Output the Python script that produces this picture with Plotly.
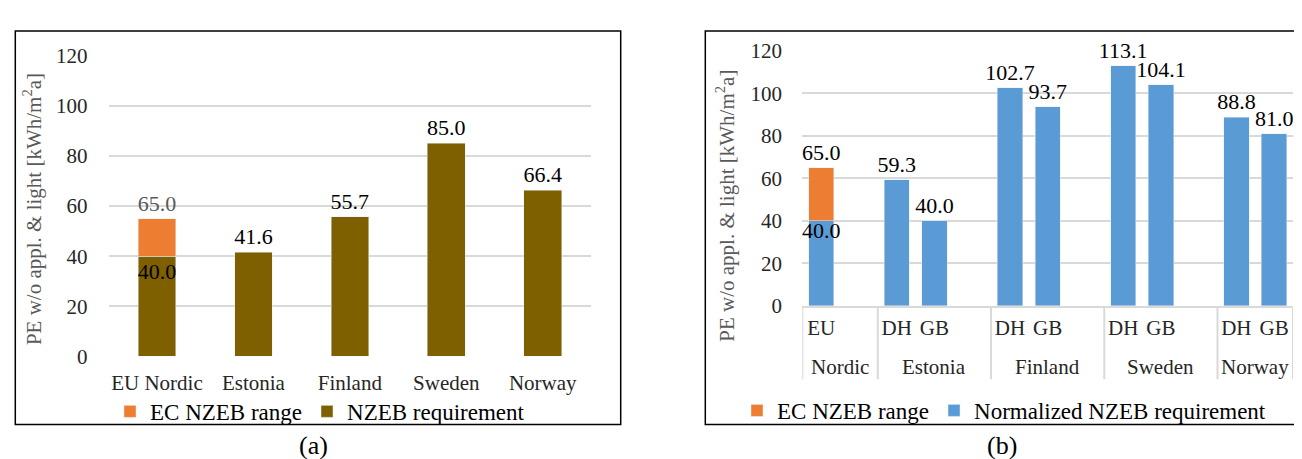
import plotly.graph_objects as go

# ---------------- data: panel (a) ----------------
a_categories = ["EU Nordic", "Estonia", "Finland", "Sweden", "Norway"]
a_nzeb = [40.0, 41.6, 55.7, 85.0, 66.4]
a_nzeb_labels = ["40.0", "41.6", "55.7", "85.0", "66.4"]
a_range_categories = ["EU Nordic"]
a_range = [15.0]
a_range_labels = ["65.0"]

# ---------------- data: panel (b) ----------------
b_groups = ["Nordic", "Nordic", "Estonia", "Estonia", "Estonia", "Finland", "Finland",
            "Finland", "Sweden", "Sweden", "Sweden", "Norway", "Norway"]
b_subs = ["EU", "", "DH", "GB", "", "DH", "GB", "", "DH", "GB", "", "DH", "GB"]
b_norm = [40.0, None, 59.3, 40.0, None, 102.7, 93.7, None, 113.1, 104.1, None, 88.8, 81.0]
b_norm_labels = ["40.0", "", "59.3", "40.0", "", "102.7", "93.7", "", "113.1", "104.1", "", "88.8", "81.0"]
b_range_slot = [0]
b_range = [25.0]
b_range_labels = ["65.0"]

y_ticks = [0, 20, 40, 60, 80, 100, 120]

# ---------------- styling ----------------
W, H = 1302, 459
FONT = "Liberation Serif"
ORANGE = "#ED7D31"
OLIVE = "#7F6000"
BLUE = "#5B9BD5"
GRID = "#D9D9D9"
TXT = "#000000"
TICK = "#262626"


def px(x):
    return x / W


def py(y):
    return 1 - y / H


b_slots = list(range(len(b_subs)))
b_tick_slots = [i for i, s in zip(b_slots, b_subs) if s]
b_tick_text = [s for s in b_subs if s]

# bars that exist in panel (b) (blank separator slots carry no bar)
b_bar_x = [i for i, v in zip(b_slots, b_norm) if v is not None]
b_bar_y = [v for v in b_norm if v is not None]
b_bar_text = [t for t, v in zip(b_norm_labels, b_norm) if v is not None]

# group spans on the panel (b) category scale
group_names = []
group_bounds = []
for i, g in enumerate(b_groups):
    if not group_names or group_names[-1] != g:
        group_names.append(g)
        group_bounds.append([i - 0.5, i + 0.5])
    else:
        group_bounds[-1][1] = i + 0.5

fig = go.Figure()

# panel (a)
fig.add_trace(go.Bar(
    x=a_categories, y=a_nzeb, name="NZEB requirement", marker_color=OLIVE,
    text=a_nzeb_labels, texttemplate="%{text}",
    textposition=["inside"] + ["outside"] * (len(a_categories) - 1),
    insidetextanchor="end", constraintext="none", textangle=0,
    textfont=dict(family=FONT, size=22, color=TXT), cliponaxis=False,
    width=0.39, xaxis="x", yaxis="y", legend="legend", legendrank=2,
))
fig.add_trace(go.Bar(
    x=a_range_categories, y=a_range, name="EC NZEB range", marker_color=ORANGE,
    text=a_range_labels, texttemplate="%{text}", textposition="outside",
    constraintext="none", textangle=0,
    textfont=dict(family=FONT, size=22, color="#595959"), cliponaxis=False,
    width=0.39, xaxis="x", yaxis="y", legend="legend", legendrank=1,
))

# panel (b)
fig.add_trace(go.Bar(
    x=b_bar_x, y=b_bar_y, name="Normalized NZEB requirement", marker_color=BLUE,
    text=b_bar_text,
    textposition=["none"] + ["outside"] * (len(b_bar_x) - 1),
    constraintext="none", textangle=0,
    textfont=dict(family=FONT, size=22, color=TXT), cliponaxis=False,
    width=0.67, xaxis="x2", yaxis="y2", legend="legend2", legendrank=2,
))
fig.add_trace(go.Bar(
    x=b_range_slot, y=b_range, name="EC NZEB range", marker_color=ORANGE,
    text=b_range_labels, textposition="outside",
    constraintext="none", textangle=0,
    textfont=dict(family=FONT, size=22, color=TXT), cliponaxis=False,
    width=0.67, xaxis="x2", yaxis="y2", legend="legend2", legendrank=1,
))

yaxis_common = dict(
    range=[0, 120], tickvals=y_ticks, showgrid=True, gridcolor=GRID, gridwidth=1.8,
    zeroline=False, showline=False, ticks="outside", tickcolor="rgba(0,0,0,0)",
    fixedrange=True, tickfont=dict(family=FONT, size=21, color=TICK),
)

shapes = [
    dict(type="rect", xref="paper", yref="paper", x0=px(7.3), x1=px(612.7),
         y0=py(426.7), y1=py(11.7), line=dict(color="black", width=1.5)),
    dict(type="rect", xref="paper", yref="paper", x0=px(697.3), x1=px(1320),
         y0=py(426.7), y1=py(11.7), line=dict(color="black", width=1.5)),
]
bounds = sorted({b for pair in group_bounds for b in pair})
for b in bounds:
    shapes.append(dict(type="line", xref="x2", yref="paper", x0=b, x1=b,
                       y0=py(379), y1=py(301.7), line=dict(color=GRID, width=2)))

annotations = [
    dict(text="PE w/o appl. & light [kWh/m<sup>2</sup>a]", xref="paper", yref="paper",
         x=px(24), y=py(199.5), textangle=-90, showarrow=False,
         xanchor="center", yanchor="middle",
         font=dict(family=FONT, size=21, color="#595959")),
    dict(text="PE w/o appl. & light [kWh/m<sup>2</sup>a]", xref="paper", yref="paper",
         x=px(718), y=py(196), textangle=-90, showarrow=False,
         xanchor="center", yanchor="middle",
         font=dict(family=FONT, size=21, color="#595959")),
    dict(text="(a)", xref="paper", yref="paper", x=px(305), y=py(449),
         showarrow=False, xanchor="center", yanchor="middle",
         font=dict(family=FONT, size=26, color=TXT)),
    dict(text="(b)", xref="paper", yref="paper", x=px(994), y=py(449),
         showarrow=False, xanchor="center", yanchor="middle",
         font=dict(family=FONT, size=26, color=TXT)),
    # label of the lower (stacked) segment of the EU bar in panel (b)
    dict(text=b_bar_text[0], xref="x2", yref="y2", x=b_bar_x[0], y=b_bar_y[0],
         yshift=-10, showarrow=False, xanchor="center", yanchor="middle",
         font=dict(family=FONT, size=22, color=TXT)),
]
for name, (lo, hi) in zip(group_names, group_bounds):
    annotations.append(dict(text=name, xref="x2", yref="paper", x=(lo + hi) / 2, y=py(366),
                            showarrow=False, xanchor="center", yanchor="middle",
                            font=dict(family=FONT, size=21, color=TICK)))

fig.update_layout(
    width=W, height=H,
    margin=dict(l=0, r=0, t=0, b=0),
    paper_bgcolor="white", plot_bgcolor="white",
    barmode="stack",
    font=dict(family=FONT, color=TXT),
    xaxis=dict(domain=[px(100.7), px(583)], anchor="y", showgrid=False, showline=False,
               ticks="", ticklabelstandoff=12, tickangle=0,
               tickfont=dict(family=FONT, size=21, color=TICK)),
    yaxis=dict(domain=[py(355), py(37.7)], anchor="x", ticklen=16, **yaxis_common),
    xaxis2=dict(domain=[px(794.3), px(1285)], anchor="y2", range=[-0.5, len(b_subs) - 0.5],
                tickvals=b_tick_slots, ticktext=b_tick_text, showgrid=False, zeroline=False,
                showline=True, linecolor=GRID, linewidth=2, tickangle=0,
                ticks="", ticklabelstandoff=2,
                tickfont=dict(family=FONT, size=21, color=TICK)),
    yaxis2=dict(domain=[py(301.7), py(32.7)], anchor="x2", ticklen=15, **yaxis_common),
    legend=dict(orientation="h", x=px(312), y=py(413), xanchor="center", yanchor="middle",
                traceorder="normal",
                font=dict(family=FONT, size=23, color=TXT), bgcolor="rgba(0,0,0,0)"),
    legend2=dict(orientation="h", x=px(996), y=py(412), xanchor="center", yanchor="middle",
                 traceorder="normal",
                 font=dict(family=FONT, size=23, color=TXT), bgcolor="rgba(0,0,0,0)"),
    shapes=shapes,
    annotations=annotations,
)

fig.write_html("out.html")
